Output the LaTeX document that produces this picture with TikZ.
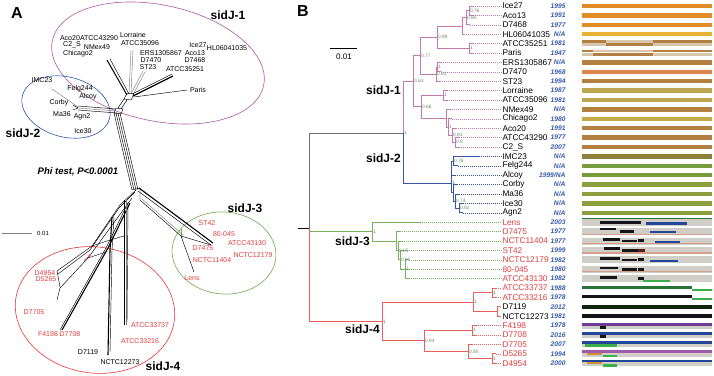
\documentclass[tikz,border=0pt]{standalone}
\usepackage{fontspec}
\setmainfont{Liberation Sans}
\usetikzlibrary{arrows.meta}

% clade colours
\definecolor{clOne}{RGB}{195,120,180}
\definecolor{clTwo}{RGB}{55,85,165}
\definecolor{clThree}{RGB}{120,175,90}
\definecolor{clFour}{RGB}{232,95,95}
\definecolor{clRoot}{RGB}{110,110,110}
\definecolor{elOne}{RGB}{175,85,165}
\definecolor{elTwo}{RGB}{40,85,165}
\definecolor{elThree}{RGB}{105,170,75}
\definecolor{elFour}{RGB}{232,55,55}
\definecolor{lblred}{RGB}{228,60,60}
\definecolor{yrblue}{RGB}{50,90,170}
\definecolor{bsgrey}{RGB}{105,135,105}
% bar colours
\definecolor{bOr}{RGB}{226,140,40}
\definecolor{bYe}{RGB}{232,178,50}
\definecolor{bBr}{RGB}{180,128,65}
\definecolor{bTn}{RGB}{215,198,170}
\definecolor{bSa}{RGB}{222,132,72}
\definecolor{bOl}{RGB}{190,165,80}
\definecolor{bGo}{RGB}{196,170,70}
\definecolor{bDo}{RGB}{140,128,58}
\definecolor{bGr}{RGB}{120,155,60}
\definecolor{bGl}{RGB}{140,160,62}
\definecolor{bGy}{RGB}{208,206,198}
\definecolor{bSm}{RGB}{210,160,140}
\definecolor{bBk}{RGB}{20,20,25}
\definecolor{bBg}{RGB}{15,35,15}
\definecolor{bBl}{RGB}{35,70,150}
\definecolor{bRd}{RGB}{90,30,30}
\definecolor{bDg}{RGB}{40,115,55}
\definecolor{bLg}{RGB}{60,175,75}
\definecolor{bPu}{RGB}{110,60,150}
\definecolor{bPk}{RGB}{160,90,170}
\definecolor{bOa}{RGB}{205,145,60}

\begin{document}
\begin{tikzpicture}[
    x=1pt, y=-1pt,
    panel/.style={font=\bfseries\fontsize{16}{16}\selectfont, inner sep=0pt},
    clade/.style={font=\bfseries\fontsize{12}{12}\selectfont, inner sep=0pt},
    tx/.style={font=\fontsize{7}{7}\selectfont, inner sep=0pt},
    txr/.style={tx, text=lblred},
    leaf/.style={font=\fontsize{8.3}{8.3}\selectfont, anchor=west, inner sep=0.3pt},
    year/.style={font=\bfseries\itshape\fontsize{6.7}{6.7}\selectfont, text=yrblue, anchor=east, inner sep=0.3pt},
    bs/.style={font=\fontsize{4.8}{4.8}\selectfont, text=bsgrey, anchor=west, inner sep=1pt},
    net/.style={line width=0.45pt, black},
    netg/.style={line width=0.45pt, gray},
    br/.style={line width=0.7pt},
    leader/.style={line width=0.5pt, dash pattern=on 1pt off 1pt}
]
\useasboundingbox (0,0) rectangle (714,375);

% ---------------- Panel A ----------------
\node[panel] (pA) at (17,13) {A};

% Group ellipses
\draw[elOne, line width=0.6pt, rotate around={-12:(158,63)}] (158,63) ellipse [x radius=108pt, y radius=58pt];
\draw[elTwo, line width=0.6pt, rotate around={-15:(66,107)}] (66,107) ellipse [x radius=45pt, y radius=30pt];
\draw[elThree, line width=0.6pt, rotate around={-5:(224,253)}] (224,253) ellipse [x radius=52pt, y radius=41pt];
\draw[elFour, line width=0.6pt, rotate around={-8:(95,310)}] (95,310) ellipse [x radius=80pt, y radius=63pt];

\node[clade] (aJ1) at (228,15) {sidJ-1};
\node[clade] (aJ2) at (23,133) {sidJ-2};
\node[clade] (aJ3) at (245,208) {sidJ-3};
\node[clade] (aJ4) at (163,366) {sidJ-4};

% sidJ-1 arms
\draw[net, line width=1pt] (107,60) -- (127,95);
\draw[net] (110,59) -- (129,94);
\draw[netg] (131,50) -- (129,93);
\draw[netg] (133,50) -- (131,93);
\draw[netg] (143,71) -- (131,94);
\draw[netg] (145,72) -- (133,95);
\draw[net, line width=1.2pt] (173,76) -- (133,96);
\draw[net] (172,74) -- (132,94);
\draw[net] (187,90) -- (134,97);
\draw[net] (127,93) -- (134,94) -- (131,100) -- (124,99) -- cycle;
\draw[net] (124,99) -- (118,108);
\draw[net] (127,100) -- (121,109);
\draw[net] (116,108) -- (123,109) -- (121,114) -- (114,113) -- cycle;

% sidJ-2 arm
\draw[net] (116,109) -- (78,106);
\draw[netg] (116,111) -- (78,108);
\draw[net] (117,113) -- (78,110);
\draw[netg] (52,89) -- (78,107);
\draw[net] (78,108) -- (73,105);
\draw[net] (78,108) -- (73,110);

% central bundle
\foreach \d in {0,2,4,6} \draw[net] ({114+\d},113) -- ({132+\d},190);
\draw[net] (132,190) -- (140,188);

% sidJ-3 arm
\draw[net, line width=1.1pt] (139,188) -- (213,243);
\draw[net] (138,191) -- (211,245);
\draw[net] (140,190) -- (140,200) -- (181,236) -- (211,245);
\draw[netg] (142,199) -- (183,235);
\draw[elThree, line width=0.5pt] (181,229) -- (181,238);
\draw[net] (181,236) -- (194,272);

% sidJ-4 arms
\draw[net] (136,190) -- (120,205) -- (92,246) -- (57,271);
\draw[net] (135,192) -- (119,208) -- (90,250) -- (58,274);
\draw[net] (132,198) -- (88,258) -- (60,288) -- (57,300);
\draw[net] (57,271) -- (60,287);
\draw[net, line width=1.1pt] (130,203) -- (108,248) -- (62,330);
\draw[net] (128,203) -- (106,248) -- (60,330);
\draw[net, line width=1.1pt] (112,217) -- (110,250) -- (108,355);
\draw[net] (114,217) -- (112,250) -- (110,352);
\draw[net] (124,200) -- (124,325);
\draw[netg] (126,200) -- (126,325);
\draw[net] (128,202) -- (127,322);
\draw[net] (92,246) -- (110,240) -- (124,236);
\draw[net] (88,258) -- (106,252);
\draw[-{Stealth[length=3pt,width=2.5pt]}, lblred, line width=0.6pt] (84,261) -- (91,254);

% scale bar A
\coordinate (sa0) at (2,233);
\coordinate (sa1) at (32,233);
\draw[gray, line width=0.6pt] (sa0) -- (sa1);
\node[font=\fontsize{6}{6}\selectfont] (saT) at (43,233) {0.01};

% network labels
\node[tx] (aAco20) at (70,38) {Aco20};
\node[tx] (aATCC43290) at (99,38) {ATCC43290};
\node[tx] (aLorraine) at (133,35) {Lorraine};
\node[tx] (aATCC35096) at (140,43.5) {ATCC35096};
\node[tx] (aC2S) at (72,45) {C2\_S};
\node[tx] (aNMex49) at (97,47) {NMex49};
\node[tx] (aChicago2) at (78,54) {Chicago2};
\node[tx] (aERS) at (161,53) {ERS1305867};
\node[tx] (aD7470) at (151,60) {D7470};
\node[tx] (aST23) at (148,67) {ST23};
\node[tx] (aIce27) at (198,45) {Ice27};
\node[tx] (aHL) at (227,48) {HL06041035};
\node[tx] (aAco13) at (195,53) {Aco13};
\node[tx] (aD7468) at (195,60) {D7468};
\node[tx] (aATCC35251) at (185,69) {ATCC35251};
\node[tx] (aParis) at (198,90) {Paris};
\node[tx] (aIMC23) at (42,80) {IMC23};
\node[tx] (aFelg244) at (80,89) {Felg244};
\node[tx] (aAlcoy) at (88,97) {Alcoy};
\node[tx] (aCorby) at (59,103) {Corby};
\node[tx] (aMa36) at (62,114) {Ma36};
\node[tx] (aAgn2) at (82,117) {Agn2};
\node[tx] (aIce30) at (83,131) {Ice30};
\node[font=\bfseries\itshape\fontsize{9.5}{9.5}\selectfont] (phi) at (78,172) {Phi test, P<0.0001};
\node[txr] (aST42) at (207,223) {ST42};
\node[txr] (a80045) at (224,234) {80-045};
\node[txr] (aATCC43130) at (247,243) {ATCC43130};
\node[txr] (aD7475) at (203,248) {D7475};
\node[txr] (aNCTC12179) at (253,255) {NCTC12179};
\node[txr] (aNCTC11404) at (212,260) {NCTC11404};
\node[txr] (aLens) at (192,278) {Lens};
\node[txr] (aD4954) at (45,273) {D4954};
\node[txr] (aD5265) at (46,279.5) {D5265};
\node[txr] (aD7705) at (34,312) {D7705};
\node[txr] (aF4198) at (48,334) {F4198};
\node[txr] (aD7708) at (70,334) {D7708};
\node[txr] (aATCC33737) at (150,325) {ATCC33737};
\node[txr] (aATCC33216) at (140,341) {ATCC33216};
\node[tx] (aD7119) at (88,352) {D7119};
\node[tx] (aNCTC12273) at (120,362) {NCTC12273};

% ---------------- Panel B ----------------
\node[panel] (pB) at (303,11) {B};
\coordinate (sb0) at (330,48);
\coordinate (sb1) at (357,48);
\draw[line width=0.6pt] (sb0) -- (sb1);
\node[font=\fontsize{8}{8}\selectfont] (sbT) at (344,57) {0.01};

% leaves: tips, names, years, leaders
\foreach \i/\nm/\yr/\tip/\cl/\tc in {
  1/Ice27/1995/473/clOne/black, 2/Aco13/1991/473/clOne/black, 3/D7468/1977/470/clOne/black,
  4/HL06041035/{N/A}/464/clOne/black, 5/ATCC35251/1981/473/clOne/black, 6/Paris/1947/473/clOne/black,
  7/ERS1305867/{N/A}/441/clOne/black, 8/D7470/1968/441/clOne/black, 9/ST23/1994/440/clOne/black,
  10/Lorraine/1987/447/clOne/black, 11/ATCC35096/1981/447/clOne/black, 12/NMex49/{N/A}/450/clOne/black,
  13/Chicago2/1980/452/clOne/black, 14/Aco20/1991/456/clOne/black, 15/ATCC43290/1977/459/clOne/black,
  16/C2\_S/2007/459/clOne/black, 17/IMC23/{N/A}/479/clTwo/black, 18/Felg244/{N/A}/458/clTwo/black,
  19/Alcoy/{1999/NA}/455/clTwo/black, 20/Corby/{N/A}/457/clTwo/black, 21/Ma36/{N/A}/459/clTwo/black,
  22/Ice30/{N/A}/463/clTwo/black, 23/Agn2/{N/A}/463/clTwo/black, 24/Lens/2003/420/clThree/lblred,
  25/D7475/1977/400/clThree/lblred, 26/NCTC11404/1977/402/clThree/lblred, 27/ST42/1999/403/clThree/lblred,
  28/NCTC12179/1982/409/clThree/lblred, 29/80-045/1980/409/clThree/lblred, 30/ATCC43130/1982/409/clThree/lblred,
  31/ATCC33737/1988/496/clFour/lblred, 32/ATCC33216/1978/496/clFour/lblred, 33/D7119/2012/500/clFour/black,
  34/NCTC12273/1981/500/clFour/black, 35/F4198/1978/476/clFour/lblred, 36/D7708/2016/476/clFour/lblred,
  37/D7705/2007/472/clFour/lblred, 38/D5265/1994/496/clFour/lblred, 39/D4954/2000/496/clFour/lblred}{
  \pgfmathsetmacro\yy{6+(\i-1)*9.4}
  \coordinate (t\i) at (\tip,\yy);
  \node[leaf, text=\tc] (l\i) at (502,\yy) {\nm};
  \node[year] (y\i) at (566,\yy) {\yr};
  \draw[leader, \cl] (t\i) -- (l\i.west);
}

% internal nodes
\coordinate (stub) at (298,228);
\coordinate (root) at (309,228);
\coordinate (s12) at (403,133);
\coordinate (n063) at (413,81.2);
\coordinate (n077) at (420,55.6);
\coordinate (n099) at (437,37.1);
\coordinate (nhl) at (462,26);
\coordinate (n085) at (466,17.8);
\coordinate (n076) at (469,10.7);
\coordinate (nap) at (469,48.3);
\coordinate (n081) at (436,74.2);
\coordinate (ned) at (437,67.1);
\coordinate (n066) at (421,106.8);
\coordinate (nla) at (443,95.3);
\coordinate (nnm) at (446,118.2);
\coordinate (nch) at (448,127);
\coordinate (n091) at (452,135.3);
\coordinate (n090) at (455,142.3);
\coordinate (s2) at (451,183);
\coordinate (m076) at (453,161.1);
\coordinate (m100) at (453,192.8);
\coordinate (m074) at (455,201);
\coordinate (m092) at (459,208.1);
\coordinate (s3) at (372,231.6);
\coordinate (k1) at (396,241);
\coordinate (k085) at (398,250.4);
\coordinate (k097) at (400,259.8);
\coordinate (k100) at (405,269.2);
\coordinate (s4) at (382,321.5);
\coordinate (p1) at (473,302.1);
\coordinate (p1a) at (492,292.7);
\coordinate (p1b) at (497,311.5);
\coordinate (p094) at (424,340.6);
\coordinate (p1c) at (472,330.3);
\coordinate (p095) at (468,351.5);
\coordinate (p1d) at (492,358.5);

% branches
\draw[br, black] (stub) -- (root);
\draw[br, clRoot] (root) |- (s12);
\draw[br, clThree] (root) |- (s3);
\draw[br, clFour] (root) |- (s4);
\foreach \a/\b in {s12/n063, n063/n077, n063/n066, n077/n099, n077/n081, n099/nhl, n099/nap,
  nhl/n085, nhl/t4, n085/n076, n085/t3, n076/t1, n076/t2, nap/t5, nap/t6, n081/ned, n081/t9,
  ned/t7, ned/t8, n066/nla, n066/nnm, nla/t10, nla/t11, nnm/t12, nnm/nch, nch/t13, nch/n091,
  n091/t14, n091/n090, n090/t15, n090/t16}
  \draw[br, clOne] (\a) |- (\b);
\foreach \a/\b in {s12/s2, s2/m076, s2/t19, s2/m100, m076/t17, m076/t18, m100/t20, m100/m074,
  m074/t21, m074/m092, m092/t22, m092/t23}
  \draw[br, clTwo] (\a) |- (\b);
\foreach \a/\b in {s3/t24, s3/k1, k1/t25, k1/k085, k085/t26, k085/k097, k097/t27, k097/k100,
  k100/t28, k100/t29, k100/t30}
  \draw[br, clThree] (\a) |- (\b);
\foreach \a/\b in {s4/p1, s4/p094, p1/p1a, p1/p1b, p1a/t31, p1a/t32, p1b/t33, p1b/t34, p094/p1c,
  p094/p095, p1c/t35, p1c/t36, p095/t37, p095/p1d, p1d/t38, p1d/t39}
  \draw[br, clFour] (\a) |- (\b);

% support values
\foreach \n/\v in {s12/1, n063/0.63, n077/0.77, n099/0.99, n085/0.85, n076/0.76, nap/1, n081/0.81,
  ned/1, n066/0.66, nla/1, nch/1, n091/0.91, n090/0.9, s2/1, m076/0.76, m074/0.74, m092/0.92,
  s3/1, k085/0.85, k097/0.97, k100/1, s4/1, p1/1, p1a/1, p094/0.94, p1c/1, p095/0.95, p1d/1}
  \node[bs] at (\n) {\v};

% clade labels
\node[clade, anchor=east] (bJ1) at (401,90) {sidJ-1};
\node[clade, anchor=east] (bJ2) at (401,158) {sidJ-2};
\node[clade, anchor=east] (bJ3) at (370,241) {sidJ-3};
\node[clade, anchor=east] (bJ4) at (380,329) {sidJ-4};

% gene bars
\foreach \i/\c in {1/bOr, 2/bOr, 3/bOr, 4/bYe, 7/bBr, 8/bSa, 9/bBr, 10/bOl, 11/bOl, 12/bBr,
  13/bGo, 14/bBr, 15/bBr, 16/bBr, 17/bDo, 18/bGr, 19/bGr, 20/bGl, 21/bGl, 22/bGl, 23/bGl,
  33/bBg, 34/bBk}
  \fill[\c] (582,{6+(\i-1)*9.4-2.2}) rectangle (712,{6+(\i-1)*9.4+2.2});
% ATCC35251, Paris
\fill[bBr] (582,40.3) rectangle (606,43);
\fill[bTn] (606,40.3) rectangle (653,43);
\fill[bBr] (653,40.3) rectangle (712,43);
\fill[bTn] (582,43.4) rectangle (606,46.4);
\fill[bBr] (606,43.4) rectangle (653,46.4);
\fill[bTn] (653,43.4) rectangle (712,46.4);
\fill[bBr] (582,49.7) rectangle (593,52.4);
\fill[bTn] (593,49.7) rectangle (653,52.4);
\fill[bBr] (653,49.7) rectangle (712,52.4);
\fill[bTn] (582,52.8) rectangle (593,55.8);
\fill[bBr] (593,52.8) rectangle (653,55.8);
\fill[bTn] (653,52.8) rectangle (712,55.8);
% sidJ-3 rows
\foreach \i in {24,...,30}
  \fill[bGy] (582,{6+(\i-1)*9.4-3.5}) rectangle (712,{6+(\i-1)*9.4+3.5});
\fill[bDg] (582,217.5) rectangle (712,219);
\fill[bBk] (600,220.5) rectangle (641,223.5);
\fill[bBl] (646,222) rectangle (687,224.5);
\fill[bBk] (600,228) rectangle (616,230);
\fill[bBk] (620,230) rectangle (634,232.5);
\fill[bBl] (650,231) rectangle (676,233);
\fill[bSm] (582,233.5) rectangle (712,234.8);
\fill[bBk] (603,238) rectangle (620,240.5);
\fill[bBk] (622,239.5) rectangle (637,242);
\fill[bBk] (638,239) rectangle (644,242);
\fill[bBl] (655,240.5) rectangle (680,242.5);
\fill[bSm] (582,243) rectangle (712,244.2);
\fill[bBk] (604,247) rectangle (620,249.5);
\fill[bBk] (622,249) rectangle (638,251.5);
\fill[bRd] (638,248.5) rectangle (645,251.5);
\fill[bSm] (582,252.4) rectangle (712,253.6);
\fill[bBk] (600,257) rectangle (620,259.5);
\fill[bBk] (622,258.5) rectangle (637,261);
\fill[bBk] (638,258) rectangle (644,261);
\fill[bBl] (650,260) rectangle (678,262);
\fill[bBk] (600,266.5) rectangle (618,269);
\fill[bBk] (622,268) rectangle (637,270.5);
\fill[bBk] (638,267.5) rectangle (644,270.5);
\fill[bSm] (582,271.2) rectangle (712,272.4);
\fill[bBk] (600,276) rectangle (617,278.5);
\fill[bBk] (638,277) rectangle (644,280);
\fill[bLg] (643,280) rectangle (670,281.5);
% sidJ-4 rows
\fill[bDg] (582,285.8) rectangle (692,289);
\fill[bLg] (692,288.5) rectangle (712,291);
\fill[bBk] (582,295.2) rectangle (692,298.4);
\fill[bLg] (692,297.9) rectangle (712,300.4);
\fill[bPu] (582,322.6) rectangle (712,325.6);
\fill[bGy] (582,325.6) rectangle (712,328.6);
\fill[bBk] (600,325.6) rectangle (606,328.8);
\fill[bBl] (582,332) rectangle (712,335);
\fill[bGy] (582,335) rectangle (712,338);
\fill[bBk] (600,335) rectangle (606,338.2);
\fill[bBl] (582,341) rectangle (712,343.6);
\fill[bGy] (582,343.6) rectangle (712,347.4);
\fill[bLg] (585,344.4) rectangle (617,347.4);
\fill[bPk] (582,350.4) rectangle (712,353);
\fill[bGy] (582,353) rectangle (712,356.8);
\fill[bOa] (587,353) rectangle (602,355);
\fill[bLg] (603,354.8) rectangle (617,357.2);
\fill[bBl] (582,359.8) rectangle (712,362.4);
\fill[bGy] (582,362.4) rectangle (712,366.2);
\fill[bOa] (587,362.4) rectangle (602,364.4);
\fill[bLg] (603,364.2) rectangle (617,366.6);

\end{tikzpicture}
\end{document}
